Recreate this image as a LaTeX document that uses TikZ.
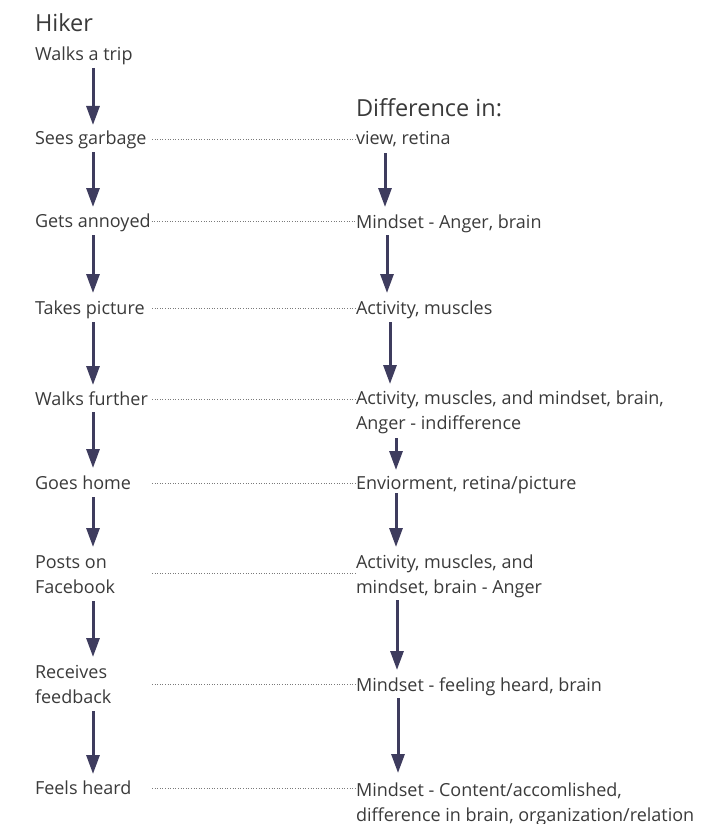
\documentclass[tikz,border=0pt]{standalone}
\usepackage{fontspec}
\setmainfont{Open Sans}
\usetikzlibrary{arrows.meta,calc}
\definecolor{txt}{HTML}{3A3A3A}
\definecolor{arrc}{HTML}{3E3C5E}
\definecolor{dotc}{HTML}{7A7A7A}
\begin{document}
\begin{tikzpicture}[x=1pt,y=-1pt,
  lbl/.style={anchor=base west,inner sep=0pt,outer sep=0pt,text=txt,align=left,
    font=\fontsize{18}{25}\selectfont},
  head/.style={anchor=base west,inner sep=0pt,outer sep=0pt,text=txt,
    font=\fontsize{23.5}{28}\selectfont},
  arr/.style={draw=arrc,line width=3pt,-{Triangle[length=19pt,width=13pt]}},
  dots/.style={draw=dotc,line width=1pt,dash pattern=on 1pt off 1.6pt}]
\useasboundingbox (0,0) rectangle (719,824);
\coordinate (dx) at (152,0);
% left column (multi-line nodes: base = last line)
\node[head] (hiker) at (35,32) {Hiker};
\node[lbl] (walk) at (35,61) {Walks a trip};
\node[lbl] (sees) at (35,145) {Sees garbage};
\node[lbl] (annoy) at (35,227) {Gets annoyed};
\node[lbl] (pic) at (35,314) {Takes picture};
\node[lbl] (further) at (35,405) {Walks further};
\node[lbl] (home) at (35,489) {Goes home};
\node[lbl] (posts) at (35,593) {Posts on\\Facebook};
\node[lbl] (recv) at (35,703) {Receives\\feedback};
\node[lbl] (feels) at (35,794) {Feels heard};
% right column
\node[head] (diff) at (356,117) {Difference in:};
\node[lbl] (r1) at (356,145) {view, retina};
\node[lbl] (r2) at (356,228) {Mindset - Anger, brain};
\node[lbl] (r3) at (356,314) {Activity, muscles};
\node[lbl] (r4) at (356,429) {Activity, muscles, and mindset, brain,\\Anger - indifference};
\node[lbl] (r5) at (356,489) {Enviorment, retina/picture};
\node[lbl] (r6) at (356,593) {Activity, muscles, and\\mindset, brain - Anger};
\node[lbl] (r7) at (356,691) {Mindset - feeling heard, brain};
\node[lbl] (r8) at (356,821) {Mindset - Content/accomlished,\\difference in brain, organization/relation};
% left arrows
\draw[arr] ($(walk.base west)+(58,7)$) -- ($(sees.base west)+(58,-20)$);
\draw[arr] ($(sees.base west)+(58,7)$) -- ($(annoy.base west)+(58,-20)$);
\draw[arr] ($(annoy.base west)+(58,8)$) -- ($(pic.base west)+(58,-21)$);
\draw[arr] ($(pic.base west)+(58,8)$) -- ($(further.base west)+(58,-20)$);
\draw[arr] ($(further.base west)+(58,7)$) -- ($(home.base west)+(58,-21)$);
\draw[arr] ($(home.base west)+(58,8)$) -- ($(posts.base west)+(58,-46)$);
\draw[arr] ($(posts.base west)+(58,8)$) -- ($(recv.base west)+(58,-46)$);
\draw[arr] ($(recv.base west)+(58,8)$) -- ($(feels.base west)+(58,-20)$);
% right arrows
\draw[arr] ($(r1.base west)+(29,8)$) -- ($(r2.base west)+(29,-21)$);
\draw[arr] ($(r2.base west)+(31,7)$) -- ($(r3.base west)+(31,-21)$);
\draw[arr] ($(r3.base west)+(34,8)$) -- ($(r4.base west)+(34,-45)$);
\draw[arr] ($(r4.base west)+(40,9)$) -- ($(r5.base west)+(40,-19)$);
\draw[arr] ($(r5.base west)+(40,4)$) -- ($(r6.base west)+(40,-46)$);
\draw[arr] ($(r6.base west)+(41,7)$) -- ($(r7.base west)+(41,-21)$);
\draw[arr] ($(r7.base west)+(42,7)$) -- ($(r8.base west)+(42,-48)$);
% dotted links
\draw[dots] ($(sees.base -| dx)+(0,-6)$) -- ($(r1.base west)+(-1,-6)$);
\draw[dots] ($(annoy.base east)+(1,-6)$) -- ($(r2.base west)+(-1,-7)$);
\draw[dots] ($(pic.base -| dx)+(0,-6)$) -- ($(r3.base west)+(-1,-6)$);
\draw[dots] ($(further.base -| dx)+(0,-6)$) -- ($(r4.base west)+(-1,-30)$);
\draw[dots] ($(home.base -| dx)+(0,-6)$) -- ($(r5.base west)+(-1,-6)$);
\draw[dots] ($(posts.base -| dx)+(0,-20)$) -- ($(r6.base west)+(-1,-20)$);
\draw[dots] ($(recv.base -| dx)+(0,-19)$) -- ($(r7.base west)+(-1,-7)$);
\draw[dots] ($(feels.base -| dx)+(0,-6)$) -- ($(r8.base west)+(-1,-33)$);
\end{tikzpicture}
\end{document}
